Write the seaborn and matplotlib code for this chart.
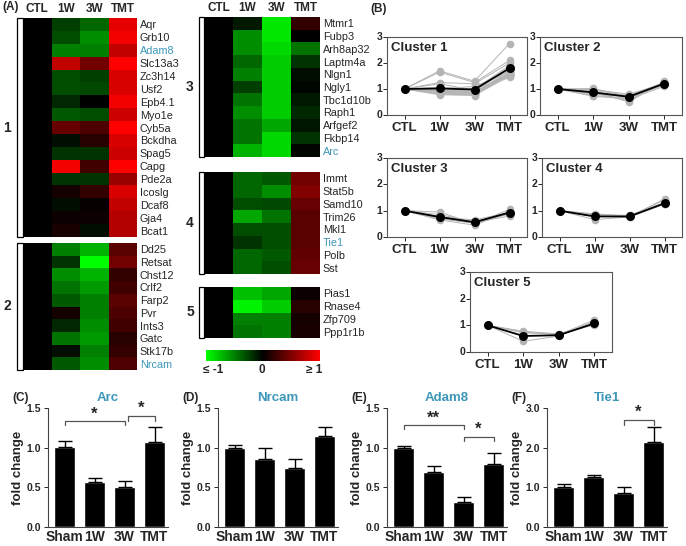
import numpy as np
import pandas as pd
import seaborn as sns
import matplotlib.pyplot as plt
from matplotlib.colors import LinearSegmentedColormap, Normalize
from matplotlib.cm import ScalarMappable
from matplotlib.patches import Rectangle
from matplotlib.transforms import blended_transform_factory

sns.set_style("white")
plt.rcParams['font.family'] = ['Liberation Sans', 'DejaVu Sans']

W, H = 686, 546
fig = plt.figure(figsize=(W / 100, H / 100), dpi=100)


def box(x0, y0, x1, y1):
    # pixel box -> figure fraction
    return [x0 / W, 1 - y1 / H, (x1 - x0) / W, (y1 - y0) / H]


conds = ['CTL', '1W', '3W', 'TMT']
teal = '#3d97b8'
highlight = ['Adam8', 'Nrcam', 'Arc', 'Tie1']

# ---- heatmap data (A): CTL, 1W, 3W, TMT ----
genes1 = ['Aqr', 'Grb10', 'Adam8', 'Slc13a3', 'Zc3h14', 'Usf2', 'Epb4.1', 'Myo1e', 'Cyb5a',
          'Bckdha', 'Spag5', 'Capg', 'Pde2a', 'Icoslg', 'Dcaf8', 'Gja4', 'Bcat1']
heat1 = [[0, -0.25, -0.40, 0.90], [0, -0.30, -0.55, 0.95], [0, -0.50, -0.50, 0.75],
         [0, 0.75, 0.45, 1.00], [0, -0.30, -0.25, 0.85], [0, -0.30, -0.28, 0.85],
         [0, -0.15, 0.00, 0.95], [0, -0.35, -0.30, 0.80], [0, 0.40, 0.30, 1.00],
         [0, -0.05, 0.15, 0.85], [0, -0.20, -0.20, 0.80], [0, 0.95, 0.25, 1.00],
         [0, -0.20, -0.20, 0.60], [0, 0.08, 0.20, 0.85], [0, -0.05, 0.03, 0.75],
         [0, 0.05, 0.05, 0.70], [0, 0.10, -0.05, 0.70]]

genes2 = ['Dd25', 'Retsat', 'Chst12', 'Crlf2', 'Farp2', 'Pvr', 'Ints3', 'Gatc', 'Stk17b', 'Nrcam']
heat2 = [[0, -0.50, -0.70, 0.35], [0, -0.20, -1.00, 0.45], [0, -0.55, -0.70, 0.20],
         [0, -0.45, -0.60, 0.25], [0, -0.35, -0.50, 0.35], [0, 0.08, -0.50, 0.30],
         [0, -0.15, -0.55, 0.25], [0, -0.45, -0.60, 0.15], [0, -0.05, -0.50, 0.20],
         [0, -0.35, -0.55, 0.30]]

genes3 = ['Mtmr1', 'Fubp3', 'Arh8ap32', 'Laptm4a', 'Nlgn1', 'Ngly1', 'Tbc1d10b', 'Raph1',
          'Arfgef2', 'Fkbp14', 'Arc']
heat3 = [[0, -0.10, -0.90, 0.20], [0, -0.55, -0.90, 0.00], [0, -0.55, -0.85, -0.45],
         [0, -0.40, -0.80, -0.20], [0, -0.50, -0.80, -0.05], [0, -0.25, -0.80, -0.02],
         [0, -0.45, -0.80, -0.10], [0, -0.55, -0.80, -0.15], [0, -0.45, -0.65, -0.08],
         [0, -0.45, -0.85, -0.20], [0, -0.70, -0.85, -0.02]]

genes4 = ['Immt', 'Stat5b', 'Samd10', 'Trim26', 'Mkl1', 'Tie1', 'Polb', 'Sst']
heat4 = [[0, -0.40, -0.35, 0.45], [0, -0.40, -0.55, 0.50], [0, -0.30, -0.28, 0.40],
         [0, -0.65, -0.45, 0.35], [0, -0.30, -0.30, 0.35], [0, -0.20, -0.30, 0.35],
         [0, -0.40, -0.35, 0.38], [0, -0.40, -0.30, 0.40]]

genes5 = ['Pias1', 'Rnase4', 'Zfp709', 'Ppp1r1b']
heat5 = [[0, -0.75, -0.65, 0.05], [0, -0.95, -0.80, 0.15], [0, -0.50, -0.50, 0.08],
         [0, -0.45, -0.50, 0.10]]

# ---- cluster profiles (B), fold change ----
prof1 = [[1, 1.70, 1.30, 2.75], [1, 1.65, 1.25, 2.10], [1, 1.25, 1.20, 2.00], [1, 1.05, 1.00, 1.90],
         [1, 0.95, 0.95, 1.80], [1, 0.90, 0.85, 1.70], [1, 0.85, 0.80, 1.60], [1, 0.80, 0.78, 1.55],
         [1, 0.78, 0.75, 1.50], [1, 1.00, 1.10, 1.65], [1, 0.95, 0.90, 1.45], [1, 1.20, 0.95, 1.75],
         [1, 0.90, 0.88, 1.60], [1, 0.88, 0.82, 1.55], [1, 1.05, 1.00, 1.50], [1, 0.92, 0.90, 1.62],
         [1, 0.85, 0.80, 1.58]]
mean1 = [1, 1.02, 0.98, 1.80]
prof2 = [[1, 0.95, 0.75, 1.25], [1, 0.90, 0.50, 1.30], [1, 0.75, 0.65, 1.15], [1, 0.80, 0.70, 1.20],
         [1, 0.85, 0.72, 1.25], [1, 1.02, 0.70, 1.22], [1, 0.90, 0.68, 1.18], [1, 0.72, 0.62, 1.10],
         [1, 0.98, 0.80, 1.20], [1, 0.85, 0.55, 1.25]]
mean2 = [1, 0.87, 0.70, 1.21]
prof3 = [[1, 0.95, 0.50, 1.05], [1, 0.70, 0.52, 0.95], [1, 0.72, 0.55, 0.80], [1, 0.78, 0.58, 0.88],
         [1, 0.72, 0.56, 0.93], [1, 0.85, 0.58, 0.95], [1, 0.74, 0.57, 0.92], [1, 0.70, 0.55, 0.90],
         [1, 0.75, 0.65, 0.93], [1, 0.74, 0.52, 0.88], [1, 0.65, 0.45, 0.97]]
mean3 = [1, 0.76, 0.56, 0.93]
prof4 = [[1, 0.80, 0.80, 1.40], [1, 0.80, 0.75, 1.45], [1, 0.85, 0.82, 1.30], [1, 0.66, 0.76, 1.25],
         [1, 0.85, 0.80, 1.25], [1, 0.88, 0.79, 1.25], [1, 0.78, 0.78, 1.28], [1, 0.78, 0.80, 1.30]]
mean4 = [1, 0.78, 0.78, 1.28]
prof5 = [[1, 0.78, 0.68, 1.05], [1, 0.40, 0.60, 1.15], [1, 0.72, 0.66, 1.02], [1, 0.75, 0.65, 1.20]]
mean5 = [1, 0.60, 0.63, 1.07]
prof_yticks = [0, 1, 2, 3]

# ---- qPCR bars (C-F) ----
groups = ['Sham', '1W', '3W', 'TMT']
arc_mean = [1.01, 0.57, 0.50, 1.07]
arc_sem = [0.07, 0.05, 0.08, 0.19]
nrcam_mean = [1.00, 0.86, 0.74, 1.15]
nrcam_sem = [0.03, 0.14, 0.12, 0.11]
adam8_mean = [1.00, 0.69, 0.31, 0.79]
adam8_sem = [0.02, 0.08, 0.07, 0.14]
tie1_mean = [1.02, 1.27, 0.85, 2.15]
tie1_sem = [0.06, 0.03, 0.15, 0.38]

cmap = LinearSegmentedColormap.from_list('gkr', ['#00ff00', '#000000', '#ff0000'])


def profile_panel(pos, rows, mean, title):
    ax = fig.add_axes(box(*pos))
    long = pd.DataFrame([(g, i, v) for g, r in enumerate(rows) for i, v in enumerate(r)],
                        columns=['gene', 'step', 'fc'])
    sns.lineplot(data=long, x='step', y='fc', units='gene', estimator=None, color='#b4b4b4',
                 lw=0.7, marker='o', markersize=5.5, markeredgewidth=0, ax=ax)
    sns.lineplot(x=list(range(len(mean))), y=mean, color='black', lw=1.3, marker='o',
                 markersize=6.5, markeredgewidth=0, ax=ax)
    ax.set_xlim(-0.5, 3.5)
    ax.set_ylim(0, 3)
    ax.set_xticks(range(4))
    ax.set_xticklabels(conds, fontsize=9.5, fontweight='bold')
    ax.set_yticks(prof_yticks)
    ax.set_yticklabels([])
    ax.tick_params(axis='both', length=3, width=0.7, direction='out', pad=2,
                   bottom=True, left=True)
    # y tick labels as plain text next to the left spine
    trans = blended_transform_factory(ax.transAxes, ax.transData)
    for v in prof_yticks:
        ax.text(-0.035, v, str(v), transform=trans, ha='right', va='center',
                fontsize=7.5, fontweight='bold', clip_on=False)
    for s in ax.spines.values():
        s.set_color('#555555')
        s.set_linewidth(0.8)
    ax.set_xlabel('')
    ax.set_ylabel('')
    ax.text(0.03, 0.94, title, transform=ax.transAxes, ha='left', va='top',
            fontsize=9.5, fontweight='bold')
    return ax


profile_panel((387, 37, 527, 115), prof1, mean1, 'Cluster 1')
profile_panel((540, 37, 682, 115), prof2, mean2, 'Cluster 2')
profile_panel((387, 158, 527, 237), prof3, mean3, 'Cluster 3')
profile_panel((542, 158, 682, 237), prof4, mean4, 'Cluster 4')
profile_panel((470, 272, 612, 352), prof5, mean5, 'Cluster 5')


def heat_block(pos, genes, vals, top_labels):
    ax = fig.add_axes(box(*pos))
    df = pd.DataFrame(vals, index=genes, columns=conds)
    sns.heatmap(df, ax=ax, cmap=cmap, vmin=-1, vmax=1, cbar=False,
                xticklabels=conds if top_labels else False, yticklabels=genes)
    ax.yaxis.tick_right()
    ax.set_yticklabels(genes, rotation=0, fontsize=7.8)
    for t in ax.get_yticklabels():
        if t.get_text() in highlight:
            t.set_color(teal)
    if top_labels:
        ax.xaxis.tick_top()
        ax.set_xticklabels(conds, rotation=0, fontsize=8.5, fontweight='bold')
    ax.tick_params(length=0, pad=2)
    ax.set_xlabel('')
    ax.set_ylabel('')
    return ax


def bracket(x0, y0, x1, y1, label, lx):
    fig.add_artist(Rectangle((x0 / W, 1 - y1 / H), (x1 - x0) / W, (y1 - y0) / H,
                             transform=fig.transFigure, facecolor='white',
                             edgecolor='black', lw=0.9))
    fig.text(lx / W, 1 - (y0 + y1) / 2 / H, label, ha='center', va='center',
             fontsize=10, fontweight='bold')


heat_block((23, 18, 137, 237), genes1, heat1, True)
heat_block((23, 243, 137, 370), genes2, heat2, False)
heat_block((204, 17, 320, 157), genes3, heat3, True)
heat_block((204, 172, 320, 274), genes4, heat4, False)
heat_block((204, 287, 320, 338), genes5, heat5, False)

bracket(17, 18, 23, 237, '1', 7)
bracket(17, 243, 23, 370, '2', 7)
bracket(199, 17, 204, 157, '3', 190)
bracket(199, 172, 204, 274, '4', 190)
bracket(199, 287, 204, 338, '5', 190)

cax = fig.add_axes(box(206, 350, 320, 361))
cb = fig.colorbar(ScalarMappable(Normalize(-1, 1), cmap), cax=cax, orientation='horizontal')
cb.set_ticks([])
cb.outline.set_visible(False)
fig.text(213 / W, 1 - 370 / H, '≤ -1', ha='center', va='center', fontsize=8.5, fontweight='bold')
fig.text(262 / W, 1 - 370 / H, '0', ha='center', va='center', fontsize=8.5, fontweight='bold')
fig.text(314 / W, 1 - 370 / H, '≥ 1', ha='center', va='center', fontsize=8.5, fontweight='bold')

fig.text(2 / W, 1 - 7 / H, '(A)', ha='left', va='center', fontsize=8.5, fontweight='bold')
fig.text(370 / W, 1 - 9 / H, '(B)', ha='left', va='center', fontsize=8.5, fontweight='bold')


def sig(ax, x0, x1, y, leg, label):
    ax.plot([x0, x0, x1, x1], [y - leg, y, y, y - leg], color='#555555', lw=0.9, clip_on=False)
    ax.text((x0 + x1) / 2, y, label, ha='center', va='bottom', fontsize=12, fontweight='bold')


def bar_panel(pos, means, sems, title, letter, ymax, yticks, ylabels):
    ax = fig.add_axes(box(*pos))
    sns.barplot(x=groups, y=means, color='black', saturation=1, width=0.72, ax=ax)
    ax.errorbar(range(len(groups)), means, yerr=[np.zeros(len(sems)), sems], fmt='none',
                ecolor='black', elinewidth=1, capsize=5, capthick=1)
    ax.set_xlim(-0.55, 3.45)
    ax.set_ylim(0, ymax)
    ax.set_yticks(yticks)
    ax.set_yticklabels(ylabels, fontsize=7.5, fontweight='bold')
    ax.set_xticks(range(4))
    ax.set_xticklabels(groups, fontsize=10, fontweight='bold')
    ax.tick_params(axis='y', length=3, width=0.7, direction='out', left=True, pad=2)
    ax.tick_params(axis='x', length=0, pad=2)
    sns.despine(ax=ax)
    for s in ['left', 'bottom']:
        ax.spines[s].set_color('#444444')
        ax.spines[s].set_linewidth(0.8)
    ax.set_ylabel('fold change', fontsize=9.5, fontweight='bold', labelpad=2)
    ax.set_title(title, color=teal, fontsize=9.5, fontweight='bold', pad=5)
    fig.text((pos[0] - 36) / W, 1 - 398 / H, letter, ha='left', va='center',
             fontsize=8.5, fontweight='bold')
    return ax


ax_c = bar_panel((48, 408, 168, 527), arc_mean, arc_sem, 'Arc', '(C)', 1.5,
                 [0, 0.5, 1.0, 1.5], ['0.0', '0.5', '1.0', '1.5'])
sig(ax_c, 0, 2, 1.33, 0.05, '*')
sig(ax_c, 2.1, 3, 1.40, 0.06, '*')

bar_panel((218, 408, 338, 527), nrcam_mean, nrcam_sem, 'Nrcam', '(D)', 1.5,
          [0, 0.5, 1.0, 1.5], ['0.0', '0.5', '1.0', '1.5'])

ax_e = bar_panel((387, 408, 507, 527), adam8_mean, adam8_sem, 'Adam8', '(E)', 1.5,
                 [0, 0.5, 1.0, 1.5], ['0.0', '0.5', '1.0', '1.5'])
sig(ax_e, 0, 2, 1.28, 0.05, '**')
sig(ax_e, 2, 3, 1.14, 0.06, '*')

ax_f = bar_panel((547, 408, 667, 527), tie1_mean, tie1_sem, 'Tie1', '(F)', 3.0,
                 [0, 1.0, 2.0, 3.0], ['0.0', '1.0', '2.0', '3.0'])
sig(ax_f, 2, 3, 2.70, 0.12, '*')

fig.savefig('out.png', dpi=100)
